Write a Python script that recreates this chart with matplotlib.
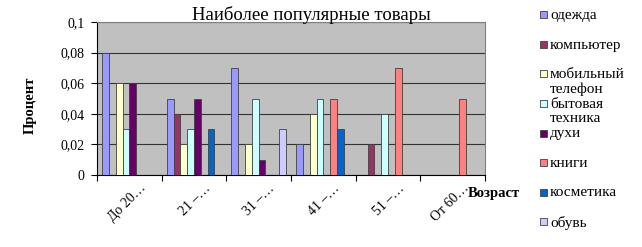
import matplotlib
matplotlib.use("Agg")
import matplotlib.pyplot as plt
from matplotlib.patches import Rectangle
import numpy as np

plt.rcParams['font.family'] = ['Liberation Serif', 'DejaVu Serif']

# age groups (x categories)
ages = ["До 20…", "21 –…", "31 –…", "41 –…", "51 –…", "От 60…"]

# product series, values per age group
series = ["одежда", "компьютер", "мобильный\nтелефон", "бытовая\nтехника",
          "духи", "книги", "косметика", "обувь"]
odezhda   = [0.08, 0.05, 0.07, 0.02, 0.00, 0.00]
komputer  = [0.00, 0.04, 0.00, 0.00, 0.02, 0.00]
mobilnyi  = [0.06, 0.02, 0.02, 0.04, 0.00, 0.00]
bytovaya  = [0.03, 0.03, 0.05, 0.05, 0.04, 0.00]
duhi      = [0.06, 0.05, 0.01, 0.00, 0.00, 0.00]
knigi     = [0.00, 0.00, 0.00, 0.05, 0.07, 0.05]
kosmetika = [0.00, 0.03, 0.00, 0.03, 0.00, 0.00]
obuv      = [0.00, 0.00, 0.03, 0.00, 0.00, 0.00]
values = [odezhda, komputer, mobilnyi, bytovaya, duhi, knigi, kosmetika, obuv]

colors = ["#9999FF", "#993366", "#FFFFCC", "#CCFFFF",
          "#660066", "#FF8080", "#0066CC", "#CCCCFF"]

W, H = 642, 247
fig = plt.figure(figsize=(W / 100, H / 100), dpi=100)
ax = fig.add_axes([97 / W, 1 - 175 / H, 388 / W, 153 / H])
ax.set_facecolor("#C0C0C0")

n = len(series)
w = 1.0 / (n + 1.5)
x = np.arange(len(ages))
for i, (vals, c) in enumerate(zip(values, colors)):
    pos = x - 0.5 + 0.75 * w + (i + 0.5) * w
    ax.bar(pos, vals, width=w, color=c, edgecolor="#404040", linewidth=0.6, zorder=3)

ax.set_xlim(-0.5, len(ages) - 0.5)
ax.set_ylim(0, 0.1)
ax.set_yticks([0, 0.02, 0.04, 0.06, 0.08, 0.1])
ax.set_yticklabels(["0", "0,02", "0,04", "0,06", "0,08", "0,1"], fontsize=10)
ax.yaxis.grid(True, color="#333333", linewidth=0.8, zorder=1)
ax.set_axisbelow(True)

ax.set_xticks(np.arange(len(ages) + 1) - 0.5)
ax.set_xticklabels([])
# slanted labels sit a bit right of the group centre, like Excel does
ax.set_xticks(x + 0.22, minor=True)
ax.set_xticklabels(ages, minor=True, rotation=45, ha="right", va="center",
                   fontsize=10, rotation_mode="anchor")
ax.tick_params(axis="x", which="minor", length=0, pad=8)
ax.tick_params(axis="x", which="major", length=4, color="black")
ax.tick_params(axis="y", length=4, color="black", pad=5)

for s in ["top", "right"]:
    ax.spines[s].set_color("#808080")
ax.spines["left"].set_color("black")
ax.spines["bottom"].set_color("black")

fig.text(311 / W, 1 - 20 / H, "Наиболее популярные товары", fontsize=13.5,
         ha="center", va="baseline")
fig.text(30 / W, 1 - 105 / H, "Процент", fontsize=10.5, fontweight="bold",
         rotation=90, ha="center", va="center")
fig.text(468 / W, 1 - 193 / H, "Возраст", fontsize=10.5, fontweight="bold",
         ha="left", va="center")

# legend drawn by hand so entries stay evenly spaced like the original
for i, (name, c) in enumerate(zip(series, colors)):
    ypx = 15 + i * 29.5
    fig.patches.append(Rectangle((540 / W, 1 - (ypx + 3.5) / H), 7 / W, 7 / H,
                                 transform=fig.transFigure, facecolor=c,
                                 edgecolor="#404040", linewidth=0.6))
    fig.text(550 / W, 1 - (ypx - 6) / H, name, fontsize=11, ha="left", va="top",
             linespacing=1.1)

fig.savefig("out.png", dpi=100)
